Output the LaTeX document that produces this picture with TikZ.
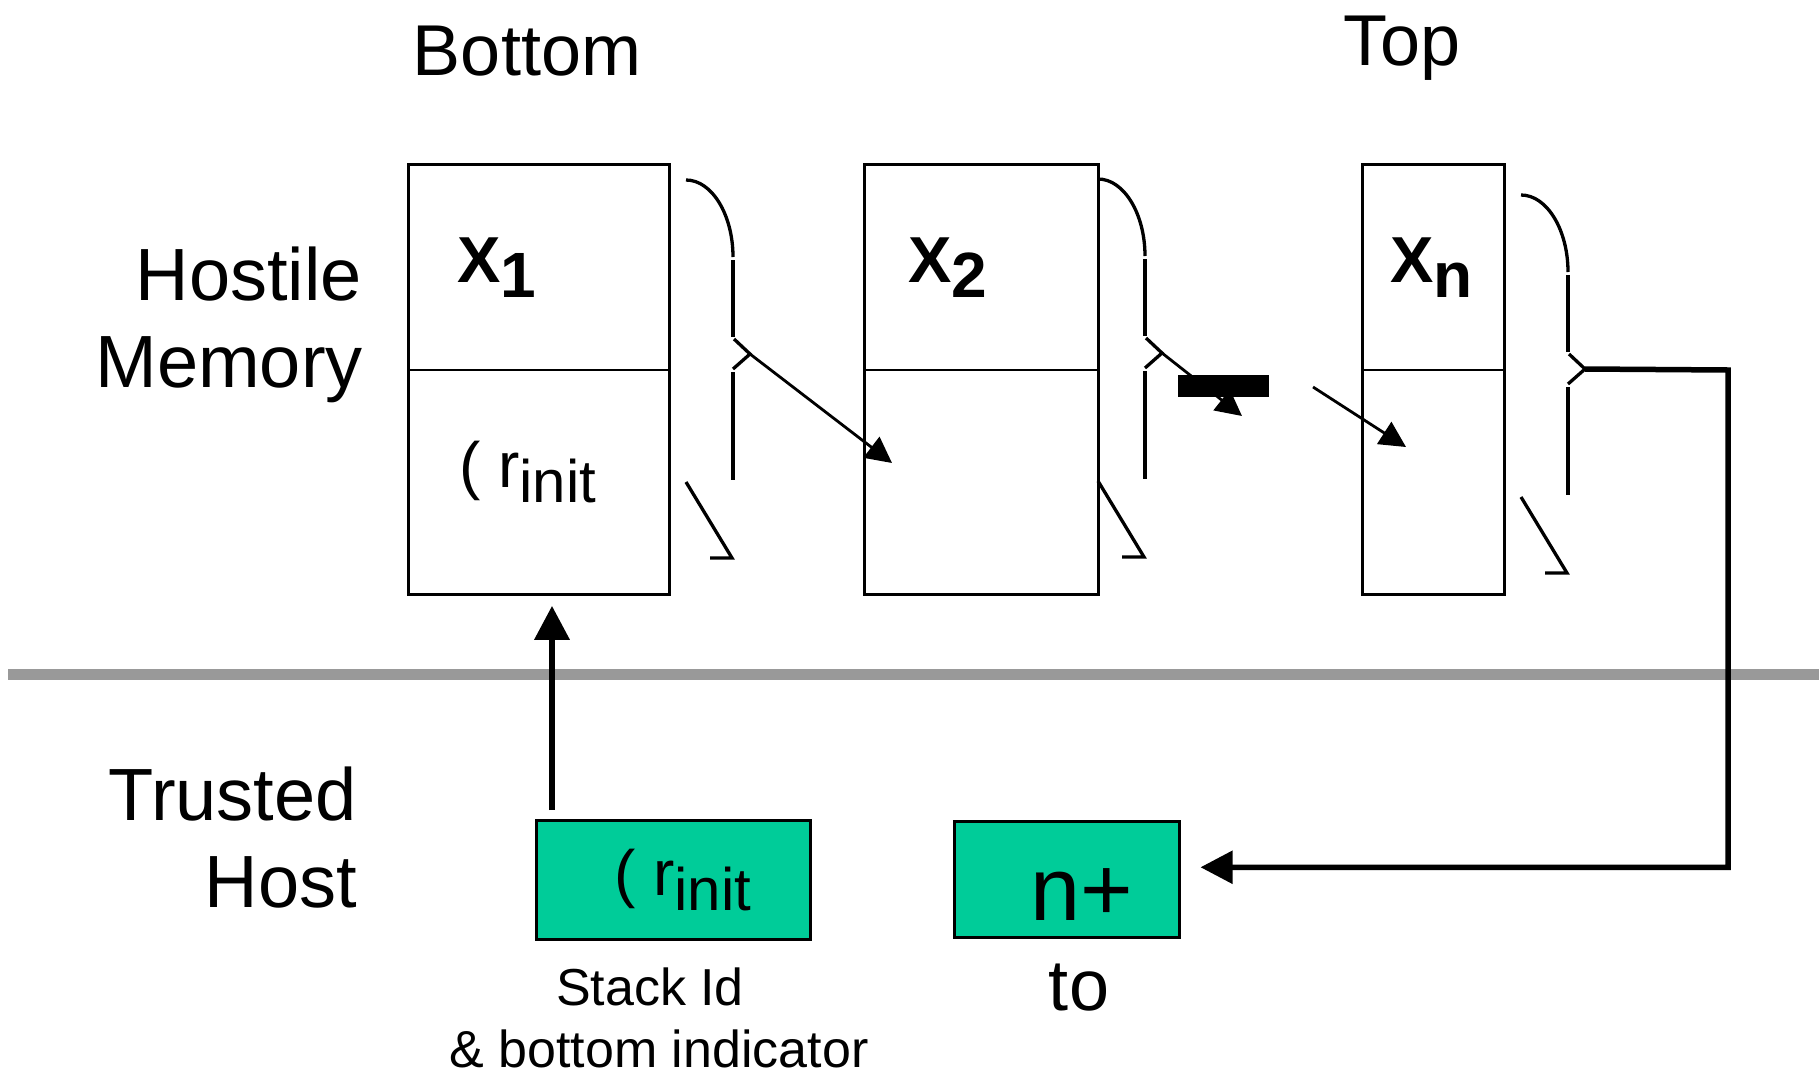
\documentclass[tikz,border=0pt]{standalone}
\usepackage{fontspec}
\setmainfont{Liberation Sans}
\usetikzlibrary{arrows.meta}
\definecolor{hostgreen}{RGB}{0,204,153}
\definecolor{divgray}{RGB}{153,153,153}

\tikzset{
  % a right brace drawn in separate strokes; origin at the start of its upper curl
  brokenbrace/.pic={
    \draw[line width=3.3pt] (0,0) .. controls (26,0) and (47,35) .. (47,77);
    \draw[line width=3.3pt] (47,80) -- (47,157);
    \draw[line width=3.3pt] (48,159) -- (64,174) -- (47,189);
    \draw[line width=3.3pt] (47,192) -- (47,300);
    \draw[line width=3.3pt] (0,302) -- (46,378) -- (24,378);
    \coordinate (-tip) at (64,174);
  }
}

\begin{document}
\begin{tikzpicture}[x=1pt,y=-1pt,
  cell/.style={draw, line width=2.8pt, minimum width=#1, minimum height=430pt,
               anchor=north west, inner sep=0pt},
  hostbox/.style={draw, line width=2.5pt, fill=hostgreen, anchor=north west, inner sep=0pt},
  bigtext/.style={inner sep=0pt, font=\fontsize{74}{88}\selectfont},
  headtext/.style={inner sep=0pt, font=\fontsize{72}{86}\selectfont},
  vartext/.style={inner sep=0pt, anchor=base west, font=\fontsize{65}{78}\selectfont\bfseries},
  valtext/.style={inner sep=0pt, anchor=base west, font=\fontsize{64}{76}\selectfont},
  notetext/.style={inner sep=0pt, anchor=base, font=\fontsize{52}{62}\selectfont},
  thinarrow/.style={line width=2.8pt, -{Triangle[width=26pt,length=26pt]}},
]
\useasboundingbox (0,0) rectangle (1819,1076);

% boundary between hostile memory and the trusted host
\draw[divgray, line width=11pt] (8,674) -- (1819,674);

% headings
\node[headtext, anchor=base] (bottomlbl) at (527,75) {Bottom};
\node[headtext, anchor=base] (toplbl) at (1402,65) {Top};
\node[bigtext, anchor=base east] (hm1) at (362,300) {Hostile};
\node[bigtext, anchor=base east] (hm2) at (363,387) {Memory};
\node[bigtext, anchor=base east] (th1) at (357,820) {Trusted};
\node[bigtext, anchor=base east] (th2) at (357,907) {Host};

% stack cells
\node[cell=261pt] (b1) at (407,163) {};
\node[cell=234pt] (b2) at (863,163) {};
\node[cell=142pt] (b3) at (1361,163) {};
\foreach \c in {b1,b2,b3}
  \draw[line width=2.8pt] (\c.west |- 0,370) -- (\c.east |- 0,370);

\node[vartext] (x1) at (457,282) {X\raisebox{-15pt}{\fontsize{64}{76}\selectfont 1}};
\node[vartext] (x2) at (908,282) {X\raisebox{-15pt}{\fontsize{64}{76}\selectfont 2}};
\node[vartext] (xn) at (1390,282) {X\raisebox{-15pt}{\fontsize{64}{76}\selectfont n}};
\node[valtext] (r1) at (459,487) {( r\raisebox{-15pt}{\fontsize{60}{72}\selectfont init}};

% braces beside the cells
\pic (br1) at (686,180) {brokenbrace};
\pic (br2) at (1098,179) {brokenbrace};
\pic (br3) at (1521,195) {brokenbrace};

% links between cells
\coordinate (in2) at (892,463);
\coordinate (gapend) at (1242,416);
\coordinate (gapstart) at (1313,387);
\coordinate (in3) at (1406,447);
\draw[thinarrow] (br1-tip) -- (in2);
\draw[thinarrow] (br2-tip) -- (gapend);
\node[fill=black, minimum width=91pt, minimum height=22pt, inner sep=0pt, anchor=north west] (gapbar) at (1178,375) {};
\draw[thinarrow] (gapstart) -- (in3);

% trusted host state
\node[hostbox, minimum width=274pt, minimum height=119pt] (g1) at (535,819) {};
\node[valtext] (r2) at (614,895) {( r\raisebox{-15pt}{\fontsize{60}{72}\selectfont init}};
\node[hostbox, minimum width=225pt, minimum height=116pt] (g2) at (953,820) {};
\node[inner sep=0pt, anchor=base west, font=\fontsize{90}{100}\selectfont] (np) at (1030,920) {n+};

\node[notetext] (sid1) at (650,1005) {Stack Id};
\node[notetext] (sid2) at (659,1067) {\& bottom indicator};
\node[headtext, anchor=base] (tolbl) at (1079,1010) {to};

% pointer from the host to the bottom cell
\draw[line width=6.5pt, -{Triangle[width=34pt,length=34pt]}]
  ([xshift=17pt,yshift=9pt]g1.north west) -- ([xshift=145pt,yshift=-10pt]b1.south west);

% top of stack returned to the host
\coordinate (corner) at (1728,370);
\draw[line width=5.5pt, -{Triangle[width=32pt,length=32pt]}]
  (br3-tip) -- (corner) |- ([xshift=20pt,yshift=12pt]g2.east);
\end{tikzpicture}
\end{document}
